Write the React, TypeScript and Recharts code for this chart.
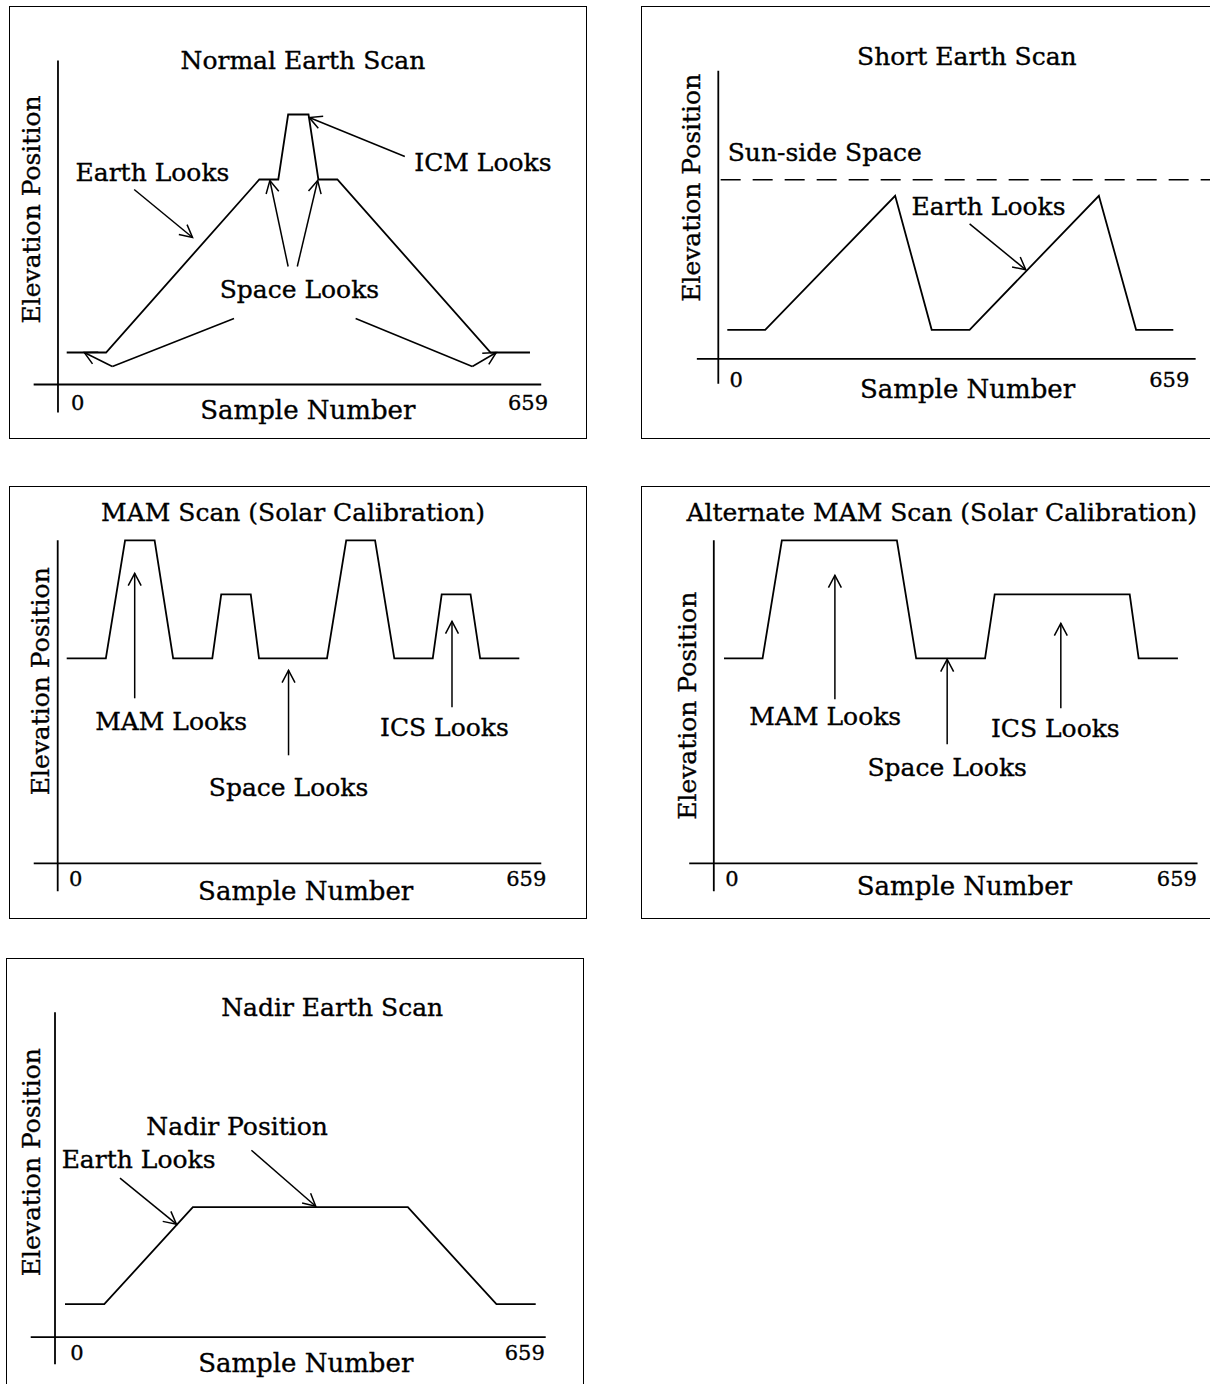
import React from 'react';
import { LineChart, Line, XAxis, YAxis, ReferenceLine, ReferenceDot } from 'recharts';

// shared axis text
const SAMPLE_TICKS = [0, 659];
const X_TITLE = 'Sample Number';
const Y_TITLE = 'Elevation Position';

// [sample, elevation, sample, elevation, arrowhead at the end]
type Arrow = [number, number, number, number, boolean];
// [text, sample, elevation of the baseline]
type Note = [string, number, number];

// Normal Earth Scan
const NORMAL_SAMPLES = [0, 56, 274, 301, 315, 344, 358, 385, 603, 659];
const NORMAL_ELEVATION = [32, 32, 205, 205, 270, 270, 205, 205, 32, 32];
const NORMAL_ARROWS: Arrow[] = [
  [96, 195, 179, 147, true],
  [481, 228, 345, 267, true],
  [315, 118, 289, 204, true],
  [328, 118, 357, 204, true],
  [238, 66, 65, 18, false],
  [65, 18, 25, 32, true],
  [411, 66, 577, 18, false],
  [577, 18, 611, 32, true],
];
const NORMAL_NOTES: Note[] = [
  ['Earth Looks', 122, 204],
  ['ICM Looks', 592, 214],
  ['Space Looks', 331, 87],
];

// Short Earth Scan
const SHORT_SAMPLES = [0, 56, 248, 302, 358, 549, 604, 659];
const SHORT_ELEVATION = [29, 29, 163, 29, 29, 163, 29, 29];
const SHORT_SUNSIDE = 179;
const SHORT_ARROWS: Arrow[] = [[358, 135, 441, 89, true]];
const SHORT_NOTES: Note[] = [
  ['Sun-side Space', 144, 198],
  ['Earth Looks', 386, 144],
];

// MAM Scan (Solar Calibration)
const MAM_SAMPLES = [0, 57, 85, 128, 155, 212, 225, 268, 280, 379, 407, 449, 477, 533, 546, 588, 602, 659];
const MAM_ELEVATION = [205, 205, 323, 323, 205, 205, 269, 269, 205, 205, 323, 323, 205, 205, 269, 269, 205, 205];
const MAM_ARROWS: Arrow[] = [
  [99, 165, 99, 290, true],
  [323, 108, 323, 193, true],
  [561, 156, 561, 242, true],
];
const MAM_NOTES: Note[] = [
  ['MAM Looks', 152, 133],
  ['Space Looks', 323, 67],
  ['ICS Looks', 550, 127],
];

// Alternate MAM Scan (Solar Calibration)
const ALT_SAMPLES = [0, 56, 84, 251, 279, 379, 393, 589, 602, 659];
const ALT_ELEVATION = [205, 205, 323, 323, 205, 205, 269, 269, 205, 205];
const ALT_ARROWS: Arrow[] = [
  [161, 164, 161, 288, true],
  [324, 119, 324, 204, true],
  [489, 155, 489, 240, true],
];
const ALT_NOTES: Note[] = [
  ['MAM Looks', 147, 138],
  ['Space Looks', 324, 87],
  ['ICS Looks', 481, 126],
];

// Nadir Earth Scan
const NADIR_SAMPLES = [0, 55, 179, 480, 604, 659];
const NADIR_ELEVATION = [33, 33, 130, 130, 33, 33];
const NADIR_ARROWS: Arrow[] = [
  [77, 159, 156, 113, true],
  [261, 187, 351, 131, true],
];
const NADIR_NOTES: Note[] = [
  ['Earth Looks', 103, 169],
  ['Nadir Position', 241, 202],
];

const FONT = '"DejaVu Serif", serif';
const TEXT_SIZE = 25;
const TICK_SIZE = 21;

const PANELS = [
  {
    title: 'Normal Earth Scan', samples: NORMAL_SAMPLES, elevation: NORMAL_ELEVATION,
    arrows: NORMAL_ARROWS, notes: NORMAL_NOTES,
    box: { left: 9, top: 5.5, width: 578, height: 433 }, px0: 66.7, k: 0.703, axisY: 384,
    titleAt: [336, 316], xTitleAt: [343, -34], yTitleAt: [-38, 175],
    yAxis: [-12.4, -28, 324], xAxis: [-47, 675], tickE: -25, tickShift: [11, -2],
  },
  {
    title: 'Short Earth Scan', samples: SHORT_SAMPLES, elevation: SHORT_ELEVATION,
    arrows: SHORT_ARROWS, notes: SHORT_NOTES, dashed: SHORT_SUNSIDE,
    box: { left: 641, top: 5.5, width: 600, height: 433 }, px0: 727.3, k: 0.6768, axisY: 358.3,
    titleAt: [354, 294], xTitleAt: [355, -39], yTitleAt: [-41, 171],
    yAxis: [-13.3, -25, 288], xAxis: [-45, 692], tickE: -28, tickShift: [9, -4],
  },
  {
    title: 'MAM Scan (Solar Calibration)', samples: MAM_SAMPLES, elevation: MAM_ELEVATION,
    arrows: MAM_ARROWS, notes: MAM_NOTES,
    box: { left: 9, top: 486, width: 578, height: 433 }, px0: 66.7, k: 0.6868, axisY: 863.3,
    titleAt: [329.5, 342], xTitleAt: [348, -37], yTitleAt: [-25.5, 182],
    yAxis: [-13.1, -28, 323], xAxis: [-48, 691], tickE: -23, tickShift: [9, 7],
  },
  {
    title: 'Alternate MAM Scan (Solar Calibration)', samples: ALT_SAMPLES, elevation: ALT_ELEVATION,
    arrows: ALT_ARROWS, notes: ALT_NOTES,
    box: { left: 641, top: 486, width: 600, height: 433 }, px0: 724, k: 0.6888, axisY: 863.3,
    titleAt: [316, 342], xTitleAt: [349, -32], yTitleAt: [-41, 157.5],
    yAxis: [-14.8, -28, 323], xAxis: [-50.5, 687.5], tickE: -23, tickShift: [8, -1],
  },
  {
    title: 'Nadir Earth Scan', samples: NADIR_SAMPLES, elevation: NADIR_ELEVATION,
    arrows: NADIR_ARROWS, notes: NADIR_NOTES,
    box: { left: 6, top: 957.5, width: 577.5, height: 450 }, px0: 65, k: 0.7143, axisY: 1336.7,
    titleAt: [374, 321], xTitleAt: [337, -35], yTitleAt: [-34.4, 175],
    yAxis: [-14, -27, 325], xAxis: [-48, 673], tickE: -23, tickShift: [12, -11],
  },
];

const arrowShape = (head: boolean) => (p: any) => {
  const { x1, y1, x2, y2 } = p;
  const ang = Math.atan2(y1 - y2, x1 - x2);
  const len = 14;
  const spread = 0.48;
  const bx1 = x2 + len * Math.cos(ang + spread);
  const by1 = y2 + len * Math.sin(ang + spread);
  const bx2 = x2 + len * Math.cos(ang - spread);
  const by2 = y2 + len * Math.sin(ang - spread);
  return (
    <g>
      <line x1={x1} y1={y1} x2={x2} y2={y2} stroke="#000" strokeWidth={1.5} />
      {head && (
        <polyline
          points={`${bx1},${by1} ${x2},${y2} ${bx2},${by2}`}
          fill="none"
          stroke="#000"
          strokeWidth={1.5}
        />
      )}
    </g>
  );
};

const textShape = (text: string, size: number, rotate = false, dx = 0) => (p: any) => (
  <text
    x={p.cx + dx}
    y={p.cy}
    textAnchor="middle"
    fontFamily={FONT}
    fontSize={size}
    fill="#000"
    stroke="#000"
    strokeWidth={0.35}
    transform={rotate ? `rotate(-90, ${p.cx}, ${p.cy})` : undefined}
  >
    {text}
  </text>
);

function ScanPanel({ cfg }: { cfg: any }) {
  const { box, px0, k, axisY } = cfg;
  const xDomain = [(box.left - px0) / k, (box.left + box.width - px0) / k];
  const yDomain = [axisY - (box.top + box.height), axisY - box.top];
  const data = cfg.samples.map((s: number, i: number) => ({ s, e: cfg.elevation[i] }));
  const [ys, ye0, ye1] = cfg.yAxis;
  const [xs0, xs1] = cfg.xAxis;

  return (
    <div style={{ position: 'absolute', left: box.left, top: box.top, width: box.width, height: box.height }}>
      <LineChart width={box.width} height={box.height} data={data} margin={{ top: 0, right: 0, bottom: 0, left: 0 }}>
        <XAxis type="number" dataKey="s" domain={xDomain} hide allowDataOverflow />
        <YAxis type="number" domain={yDomain} hide allowDataOverflow />

        {/* axes */}
        <ReferenceLine ifOverflow="visible" segment={[{ x: ys, y: ye0 }, { x: ys, y: ye1 }]} stroke="#000" strokeWidth={1.8} />
        <ReferenceLine ifOverflow="visible" segment={[{ x: xs0, y: 0 }, { x: xs1, y: 0 }]} stroke="#000" strokeWidth={1.8} />

        {cfg.dashed !== undefined && (
          <ReferenceLine
            ifOverflow="visible"
            segment={[{ x: ys + 3.5, y: cfg.dashed }, { x: xDomain[1], y: cfg.dashed }]}
            stroke="#000"
            strokeWidth={1.6}
            strokeDasharray="20 12"
          />
        )}

        {cfg.arrows.map((a: Arrow, i: number) => (
          <ReferenceLine
            key={`a${i}`}
            ifOverflow="visible"
            segment={[{ x: a[0], y: a[1] }, { x: a[2], y: a[3] }]}
            shape={arrowShape(a[4])}
          />
        ))}

        {cfg.notes.map((n: Note, i: number) => (
          <ReferenceDot key={`n${i}`} ifOverflow="visible" x={n[1]} y={n[2]} r={0} shape={textShape(n[0], TEXT_SIZE)} />
        ))}

        <ReferenceDot ifOverflow="visible" x={cfg.titleAt[0]} y={cfg.titleAt[1]} r={0} shape={textShape(cfg.title, TEXT_SIZE)} />
        <ReferenceDot ifOverflow="visible" x={cfg.xTitleAt[0]} y={cfg.xTitleAt[1]} r={0} shape={textShape(X_TITLE, TEXT_SIZE + 1)} />
        <ReferenceDot ifOverflow="visible" x={cfg.yTitleAt[0]} y={cfg.yTitleAt[1]} r={0} shape={textShape(Y_TITLE, TEXT_SIZE, true)} />

        {SAMPLE_TICKS.map((t, i) => (
          <ReferenceDot
            key={`t${t}`}
            ifOverflow="visible"
            x={t}
            y={cfg.tickE}
            r={0}
            shape={textShape(String(t), TICK_SIZE, false, cfg.tickShift[i])}
          />
        ))}

        <Line dataKey="e" type="linear" stroke="#000" strokeWidth={1.8} dot={false} isAnimationActive={false} />
      </LineChart>
      <div
        style={{
          position: 'absolute',
          left: 0,
          top: 0,
          width: box.width,
          height: box.height,
          border: '1.6px solid #000',
          boxSizing: 'border-box',
          pointerEvents: 'none',
        }}
      />
    </div>
  );
}

export default function App() {
  return (
    <div style={{ position: 'absolute', left: 0, top: 0, width: 1210, height: 1384, overflow: 'hidden', background: '#fff' }}>
      {PANELS.map((p) => (
        <ScanPanel key={p.title} cfg={p} />
      ))}
    </div>
  );
}
